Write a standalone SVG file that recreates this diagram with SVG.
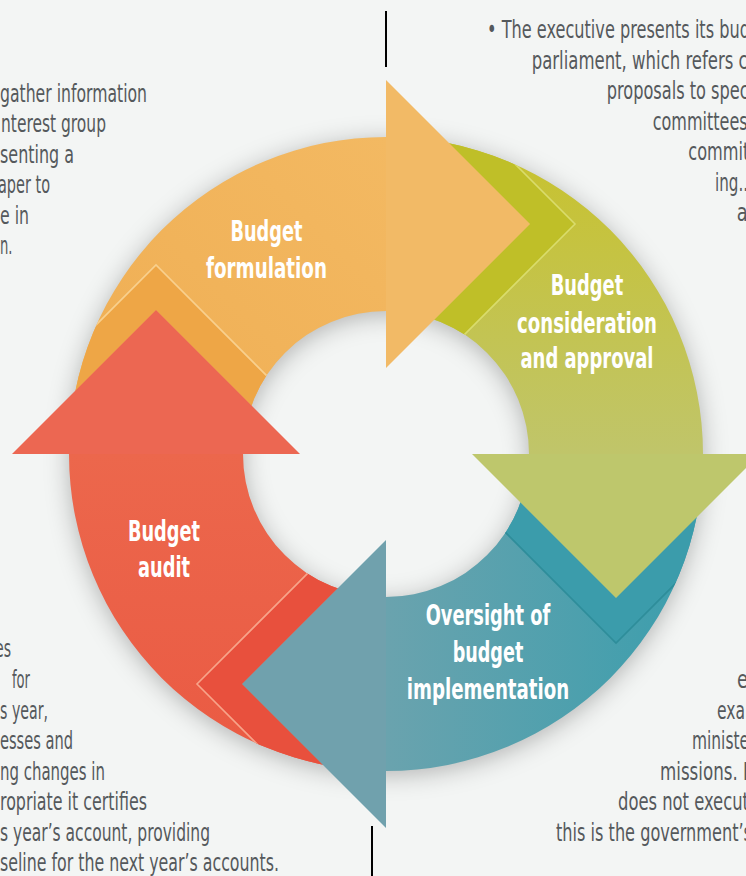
<svg xmlns="http://www.w3.org/2000/svg" width="746" height="876" viewBox="0 0 746 876">
<defs>
<style>
.body{font-family:'DejaVu Sans Condensed','Liberation Sans Narrow','Liberation Sans',sans-serif;font-size:25px;fill:#55595c}
.lbl{font-family:'DejaVu Sans Condensed','Liberation Sans Narrow','Liberation Sans',sans-serif;font-size:29px;font-weight:bold;fill:#ffffff;text-anchor:middle}
.fold{fill:none;stroke-width:1.6}
.rule{stroke:#000000;stroke-width:2}
</style>
<clipPath id="ring"><path clip-rule="evenodd" d="M69,454 A317,317 0 1 1 703,454 A317,317 0 1 1 69,454 Z M243,454 A143,143 0 1 0 529,454 A143,143 0 1 0 243,454 Z"/></clipPath>
<filter id="blur" x="-30%" y="-30%" width="160%" height="160%"><feGaussianBlur stdDeviation="12"/></filter>
<linearGradient id="gOr" x1="69" y1="454" x2="386" y2="137" gradientUnits="userSpaceOnUse"><stop offset="0" stop-color="#efad52"/><stop offset="1" stop-color="#f3b962"/></linearGradient>
<linearGradient id="gGr" x1="0" y1="137" x2="0" y2="454" gradientUnits="userSpaceOnUse"><stop offset="0" stop-color="#c8c22c"/><stop offset="1" stop-color="#c0c56a"/></linearGradient>
<linearGradient id="gTe" x1="703" y1="0" x2="386" y2="0" gradientUnits="userSpaceOnUse"><stop offset="0" stop-color="#3a9ead"/><stop offset="1" stop-color="#6aa3ae"/></linearGradient>
<linearGradient id="gRe" x1="0" y1="454" x2="0" y2="771" gradientUnits="userSpaceOnUse"><stop offset="0" stop-color="#ec674c"/><stop offset="1" stop-color="#ea5a43"/></linearGradient>
</defs>
<rect x="0" y="0" width="746" height="876" fill="#f3f5f4"/>
<circle cx="386" cy="458" r="230" fill="none" stroke="#000" stroke-opacity="0.27" stroke-width="174" filter="url(#blur)"/>
<line class="rule" x1="386" y1="11" x2="386" y2="67"/>
<line class="rule" x1="372" y1="826" x2="372" y2="876"/>

<g id="text-top-left">
<text class="body" x="0" y="101.5" textLength="147" lengthAdjust="spacingAndGlyphs">gather information</text>
<text class="body" x="1" y="132" textLength="105" lengthAdjust="spacingAndGlyphs">nterest group</text>
<text class="body" x="0" y="162.5" textLength="74" lengthAdjust="spacingAndGlyphs">senting a</text>
<text class="body" x="-2" y="193" textLength="52" lengthAdjust="spacingAndGlyphs">aper to</text>
<text class="body" x="0" y="223.5" textLength="29" lengthAdjust="spacingAndGlyphs">e in</text>
<text class="body" x="0" y="254" textLength="12.5" lengthAdjust="spacingAndGlyphs">n.</text>
</g>
<g id="text-top-right">
<text class="body" x="487" y="38.3" textLength="263" lengthAdjust="spacingAndGlyphs">• The executive presents its bud</text>
<text class="body" x="531.7" y="68.5" textLength="216" lengthAdjust="spacingAndGlyphs">parliament, which refers c</text>
<text class="body" x="606.7" y="99" textLength="142" lengthAdjust="spacingAndGlyphs">proposals to spec</text>
<text class="body" x="652.7" y="129.5" textLength="95" lengthAdjust="spacingAndGlyphs">committees</text>
<text class="body" x="688.3" y="160" textLength="61" lengthAdjust="spacingAndGlyphs">commit</text>
<text class="body" x="715" y="190.5" textLength="33" lengthAdjust="spacingAndGlyphs">ing..</text>
<text class="body" x="736.7" y="221" textLength="11" lengthAdjust="spacingAndGlyphs">a</text>
</g>
<g id="text-bottom-left">
<text class="body" x="-5" y="657" textLength="16" lengthAdjust="spacingAndGlyphs">es</text>
<text class="body" x="12" y="688" textLength="18" lengthAdjust="spacingAndGlyphs">for</text>
<text class="body" x="0" y="718.5" textLength="48" lengthAdjust="spacingAndGlyphs">s year,</text>
<text class="body" x="0" y="749" textLength="73" lengthAdjust="spacingAndGlyphs">esses and</text>
<text class="body" x="0" y="779.5" textLength="105" lengthAdjust="spacingAndGlyphs">ng changes in</text>
<text class="body" x="0" y="810" textLength="147" lengthAdjust="spacingAndGlyphs">ropriate it certifies</text>
<text class="body" x="0" y="840.5" textLength="210" lengthAdjust="spacingAndGlyphs">s year’s account, providing</text>
<text class="body" x="0" y="871" textLength="279" lengthAdjust="spacingAndGlyphs">seline for the next year’s accounts.</text>
</g>
<g id="text-bottom-right">
<text class="body" x="737" y="688" textLength="11" lengthAdjust="spacingAndGlyphs">e</text>
<text class="body" x="717" y="718.5" textLength="28" lengthAdjust="spacingAndGlyphs">exa</text>
<text class="body" x="692" y="749" textLength="57" lengthAdjust="spacingAndGlyphs">ministe</text>
<text class="body" x="660" y="779.5" textLength="88" lengthAdjust="spacingAndGlyphs">missions. I</text>
<text class="body" x="618" y="810" textLength="131" lengthAdjust="spacingAndGlyphs">does not execut</text>
<text class="body" x="556" y="840.5" textLength="196" lengthAdjust="spacingAndGlyphs">this is the government’s</text>
</g>

<g id="budget-formulation">
<path fill="url(#gOr)" d="M69,454 A317,317 0 0 1 386,137 L386,311 A143,143 0 0 0 243,454 Z"/>
<g clip-path="url(#ring)">
<polygon fill="#eea646" points="-33,454 156,265 345,454 300,454 156,310 12,454"/>
<polyline class="fold" stroke="#f8d08e" points="-33,454 156,265 345,454"/>
</g>
<text class="lbl" x="266.5" y="240.7" textLength="72" lengthAdjust="spacingAndGlyphs">Budget</text>
<text class="lbl" x="266.5" y="278.3" textLength="121" lengthAdjust="spacingAndGlyphs">formulation</text>
</g>

<g id="budget-consideration">
<path fill="url(#gGr)" d="M386,137 A317,317 0 0 1 703,454 L529,454 A143,143 0 0 0 386,311 Z"/>
<g clip-path="url(#ring)">
<polygon fill="#bfbf28" points="386,35 575,224 386,413 386,368 530,224 386,80"/>
<polyline class="fold" stroke="#d9dc6c" points="386,35 575,224 386,413"/>
</g>
<text class="lbl" x="587" y="295" textLength="72.6" lengthAdjust="spacingAndGlyphs">Budget</text>
<text class="lbl" x="587" y="332.7" textLength="140" lengthAdjust="spacingAndGlyphs">consideration</text>
<text class="lbl" x="587" y="368" textLength="133" lengthAdjust="spacingAndGlyphs">and approval</text>
</g>

<g id="budget-oversight">
<path fill="url(#gTe)" d="M703,454 A317,317 0 0 1 386,771 L386,597 A143,143 0 0 0 529,454 Z"/>
<g clip-path="url(#ring)">
<polygon fill="#3b9cab" points="805,454 616,643 427,454 472,454 616,598 760,454"/>
<polyline class="fold" stroke="#2e8d9a" points="805,454 616,643 427,454"/>
</g>
<text class="lbl" x="488" y="625" textLength="124.7" lengthAdjust="spacingAndGlyphs">Oversight of</text>
<text class="lbl" x="488" y="662" textLength="70.6" lengthAdjust="spacingAndGlyphs">budget</text>
<text class="lbl" x="488" y="699" textLength="162.5" lengthAdjust="spacingAndGlyphs">implementation</text>
</g>

<g id="budget-audit">
<path fill="url(#gRe)" d="M386,771 A317,317 0 0 1 69,454 L243,454 A143,143 0 0 0 386,597 Z"/>
<g clip-path="url(#ring)">
<polygon fill="#e8503d" points="386,873 197,684 386,495 386,540 242,684 386,828"/>
<polyline class="fold" stroke="#f7a48a" points="386,873 197,684 386,495"/>
</g>
<text class="lbl" x="164" y="540.5" textLength="72" lengthAdjust="spacingAndGlyphs">Budget</text>
<text class="lbl" x="164" y="577" textLength="52" lengthAdjust="spacingAndGlyphs">audit</text>
</g>

<g id="connectors">
<polygon fill="#ec6752" points="12,454 156,310 300,454"/>
<polygon fill="#f2ba66" points="386,80 530,224 386,368"/>
<polygon fill="#bec76c" points="760,454 616,598 472,454"/>
<polygon fill="#70a1ad" points="386,828 242,684 386,540"/>
</g>
</svg>
